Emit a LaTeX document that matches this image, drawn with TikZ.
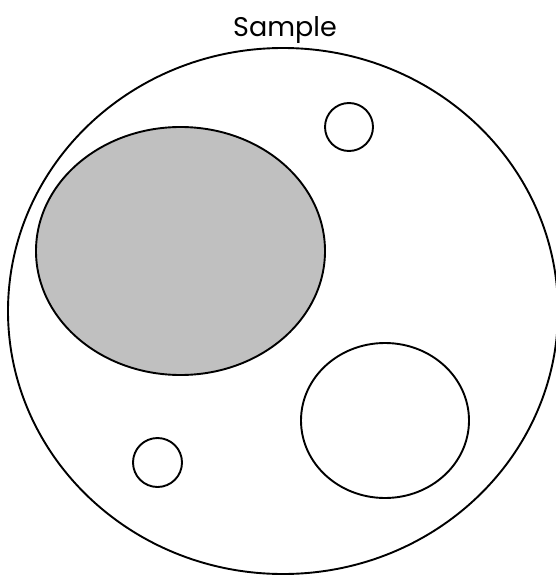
\documentclass[tikz,border=0pt]{standalone}
\usepackage{fontspec}
\setmainfont{Poppins}
\begin{document}
\begin{tikzpicture}[x=1pt,y=-1pt,
  outline/.style={draw=black,line width=1.9pt},
  lbl/.style={font=\fontsize{27}{30}\selectfont,inner sep=0pt}]
\useasboundingbox (0,0) rectangle (556,575);
\clip (0,0) rectangle (556,575);
\draw[outline] (283,311) ellipse [x radius=275, y radius=263];
\draw[outline,fill={rgb,255:red,192;green,192;blue,192}] (180.5,251) ellipse [x radius=144.5, y radius=124];
\draw[outline] (349,127) circle [radius=24];
\draw[outline] (157.5,462.5) circle [radius=24.5];
\draw[outline] (385,420.5) ellipse [x radius=84, y radius=77.5];
\node[lbl,anchor=base] (title) at (285,37) {Sample};
\end{tikzpicture}
\end{document}
